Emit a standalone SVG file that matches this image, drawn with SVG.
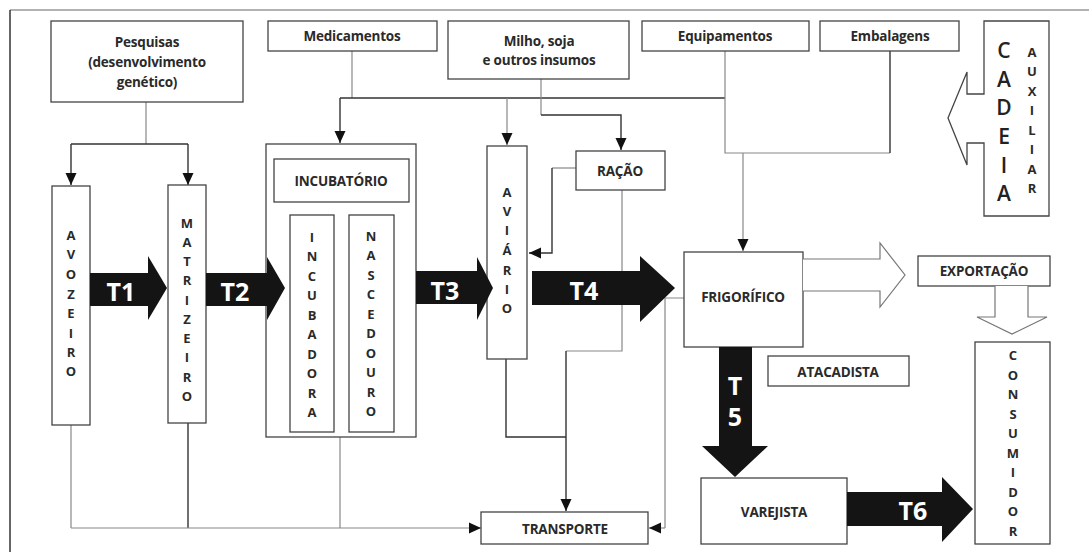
<svg xmlns="http://www.w3.org/2000/svg" width="1089" height="552" viewBox="0 0 1089 552">
<style>
.box{fill:#fff;stroke:#444;stroke-width:1.3}
.lbl{font-family:"Open Sans","Liberation Sans",sans-serif;font-weight:700;font-size:13.5px;fill:#2a2a2a;text-anchor:middle;dominant-baseline:central;letter-spacing:-0.2px}
.vl{font-family:"Open Sans","Liberation Sans",sans-serif;font-weight:700;font-size:13px;fill:#2a2a2a;text-anchor:middle;dominant-baseline:central}
.big{font-family:"Open Sans","Liberation Sans",sans-serif;font-weight:700;font-size:25px;fill:#fff;text-anchor:middle;dominant-baseline:central}
.blk{fill:#141414;stroke:none}
.hol{fill:#fff;stroke:#777;stroke-width:1.2}
.c{fill:none;stroke:#333;stroke-width:1.4}
.g{fill:none;stroke:#888;stroke-width:1.2}
</style>
<defs>
<marker id="ah" markerUnits="userSpaceOnUse" markerWidth="12" markerHeight="12" refX="12" refY="6" orient="auto" viewBox="0 0 12 12">
<path d="M0,0.5 L12,6 L0,11.5 z" fill="#111"/>
</marker>
</defs>
<rect width="1089" height="552" fill="#fff"/>
<g id="frame">
<line x1="10" y1="10" x2="1089" y2="10" stroke="#999" stroke-width="1.5"/>
<line x1="10" y1="10" x2="10" y2="552" stroke="#333" stroke-width="1.5"/>
</g>
<g id="connectors">
<path class="g" d="M146,102 V144"/>
<path class="c" d="M71,144 H188"/>
<path class="c" d="M71,144 V185" marker-end="url(#ah)"/>
<path class="c" d="M188,144 V185" marker-end="url(#ah)"/>
<path class="g" d="M352,51 V98"/>
<path class="c" d="M340,98 H725"/>
<path class="c" d="M340,98 V143" marker-end="url(#ah)"/>
<path class="g" d="M507,98 V145" marker-end="url(#ah)"/>
<path class="g" d="M541,79 V115"/>
<path class="c" d="M541,115 H621 V150" marker-end="url(#ah)"/>
<path class="g" d="M725,51 V153 H890"/>
<path class="c" d="M890,153 V51"/>
<path class="g" d="M743,153 V251" marker-end="url(#ah)"/>
<path class="g" d="M576,168 H552"/>
<path class="c" d="M552,168 V253 H529" marker-end="url(#ah)"/>
<path class="g" d="M622,190 V351 H566"/>
<path class="c" d="M566,351 V511" marker-end="url(#ah)"/>
<path class="c" d="M506,359 V437 H566"/>
<path class="g" d="M684,298 H665 V528"/>
<path class="g" d="M665,528 H649" marker-end="url(#ah)"/>
<path class="g" d="M71,425 V528"/>
<path class="c" d="M188,423 V528"/>
<path class="g" d="M340,437 V528"/>
<path class="g" d="M71,528 H481" marker-end="url(#ah)"/>
</g>
<g id="pesquisas">
<rect class="box" x="51" y="21" width="192" height="81"/>
<text class="lbl" x="147" y="42">Pesquisas</text>
<text class="lbl" x="147" y="62">(desenvolvimento</text>
<text class="lbl" x="147" y="82">genético)</text>
</g>
<g id="medicamentos">
<rect class="box" x="268" y="21" width="169" height="30"/>
<text class="lbl" x="352" y="36">Medicamentos</text>
</g>
<g id="milho">
<rect class="box" x="448" y="21" width="181" height="58"/>
<text class="lbl" x="539" y="41">Milho, soja</text>
<text class="lbl" x="539" y="60">e outros insumos</text>
</g>
<g id="equipamentos">
<rect class="box" x="642" y="21" width="167" height="30"/>
<text class="lbl" x="725" y="36">Equipamentos</text>
</g>
<g id="embalagens">
<rect class="box" x="820" y="21" width="139" height="30"/>
<text class="lbl" x="890" y="36">Embalagens</text>
</g>
<g id="cadeia-auxiliar">
<path class="box" d="M984,94 H967 V72 L948,118 L967,165 V143 H984 V216 H1049 V21 H984 Z"/>
<g font-family="Open Sans, Liberation Sans, sans-serif" font-size="21" font-weight="600" fill="#222" text-anchor="middle" dominant-baseline="central">
<text x="1004" y="50">C</text><text x="1004" y="79">A</text><text x="1004" y="107">D</text><text x="1004" y="136">E</text><text x="1004" y="165">I</text><text x="1004" y="193">A</text>
</g>
<text class="vl" x="1032" y="52" font-size="12">A</text><text class="vl" x="1032" y="71" font-size="12">U</text><text class="vl" x="1032" y="91" font-size="12">X</text><text class="vl" x="1032" y="110" font-size="12">I</text><text class="vl" x="1032" y="130" font-size="12">L</text><text class="vl" x="1032" y="149" font-size="12">I</text><text class="vl" x="1032" y="169" font-size="12">A</text><text class="vl" x="1032" y="188" font-size="12">R</text>
</g>
<g id="avozeiro">
<rect class="box" x="52" y="186" width="38" height="239"/>
<text class="vl" x="71" y="235">A</text><text class="vl" x="71" y="254">V</text><text class="vl" x="71" y="274">O</text><text class="vl" x="71" y="294">Z</text><text class="vl" x="71" y="313">E</text><text class="vl" x="71" y="333">I</text><text class="vl" x="71" y="352">R</text><text class="vl" x="71" y="371">O</text>
</g>
<g id="matrizeiro">
<rect class="box" x="168" y="185" width="38" height="238"/>
<text class="vl" x="187" y="223">M</text><text class="vl" x="187" y="242">A</text><text class="vl" x="187" y="261">T</text><text class="vl" x="187" y="280">R</text><text class="vl" x="187" y="300">I</text><text class="vl" x="187" y="319">Z</text><text class="vl" x="187" y="338">E</text><text class="vl" x="187" y="357">I</text><text class="vl" x="187" y="377">R</text><text class="vl" x="187" y="396">O</text>
</g>
<g id="incubatorio">
<rect class="box" x="266" y="144" width="150" height="293"/>
<rect class="box" x="274" y="159" width="135" height="43"/>
<text class="lbl" x="341" y="181" font-size="12.5">INCUBATÓRIO</text>
</g>
<g id="incubadora">
<rect class="box" x="290" y="215" width="44" height="217"/>
<text class="vl" x="312" y="237">I</text><text class="vl" x="312" y="256">N</text><text class="vl" x="312" y="276">C</text><text class="vl" x="312" y="295">U</text><text class="vl" x="312" y="315">B</text><text class="vl" x="312" y="334">A</text><text class="vl" x="312" y="354">D</text><text class="vl" x="312" y="373">O</text><text class="vl" x="312" y="393">R</text><text class="vl" x="312" y="412">A</text>
</g>
<g id="nascedouro">
<rect class="box" x="349" y="215" width="45" height="217"/>
<text class="vl" x="371" y="236">N</text><text class="vl" x="371" y="255">A</text><text class="vl" x="371" y="275">S</text><text class="vl" x="371" y="294">C</text><text class="vl" x="371" y="314">E</text><text class="vl" x="371" y="333">D</text><text class="vl" x="371" y="353">O</text><text class="vl" x="371" y="372">U</text><text class="vl" x="371" y="392">R</text><text class="vl" x="371" y="411">O</text>
</g>
<g id="aviario">
<rect class="box" x="487" y="146" width="40" height="213"/>
<text class="vl" x="507" y="192">A</text><text class="vl" x="507" y="211">V</text><text class="vl" x="507" y="230">I</text><text class="vl" x="507" y="250">Á</text><text class="vl" x="507" y="270">R</text><text class="vl" x="507" y="289">I</text><text class="vl" x="507" y="308">O</text>
</g>
<g id="racao">
<rect class="box" x="576" y="151" width="89" height="39"/>
<text class="lbl" x="620" y="171">RAÇÃO</text>
</g>
<g id="frigorifico">
<rect class="box" x="684" y="252" width="119" height="95"/>
<text class="lbl" x="743" y="297" font-size="12.5">FRIGORÍFICO</text>
</g>
<g id="exportacao">
<rect class="box" x="918" y="256" width="132" height="30"/>
<text class="lbl" x="984" y="271">EXPORTAÇÃO</text>
</g>
<g id="atacadista">
<rect class="box" x="768" y="356" width="141" height="30"/>
<text class="lbl" x="838" y="372" font-size="12.5">ATACADISTA</text>
</g>
<g id="consumidor">
<rect class="box" x="975" y="342" width="75" height="202"/>
<text class="vl" x="1013" y="355" font-size="12">C</text><text class="vl" x="1013" y="375" font-size="12">O</text><text class="vl" x="1013" y="394" font-size="12">N</text><text class="vl" x="1013" y="414" font-size="12">S</text><text class="vl" x="1013" y="433" font-size="12">U</text><text class="vl" x="1013" y="453" font-size="12">M</text><text class="vl" x="1013" y="472" font-size="12">I</text><text class="vl" x="1013" y="492" font-size="12">D</text><text class="vl" x="1013" y="511" font-size="12">O</text><text class="vl" x="1013" y="531" font-size="12">R</text>
</g>
<g id="varejista">
<rect class="box" x="701" y="478" width="146" height="66"/>
<text class="lbl" x="774" y="512" font-size="12.5">VAREJISTA</text>
</g>
<g id="transporte">
<rect class="box" x="481" y="512" width="167" height="32"/>
<text class="lbl" x="565" y="529" font-size="12.5">TRANSPORTE</text>
</g>
<g id="arrows">
<path class="blk" d="M90,273 H148 V256 L167,288 L148,320 V306 H90 Z"/>
<text class="big" x="121" y="291">T1</text>
<path class="blk" d="M206,273 H267 V257 L285,288 L267,320 V306 H206 Z"/>
<text class="big" x="235" y="291">T2</text>
<path class="blk" d="M416,271 H477 V257 L493,288 L477,320 V304 H416 Z"/>
<text class="big" x="445" y="290">T3</text>
<path class="blk" d="M532,271 H640 V256 L675,288 L640,322 V305 H532 Z"/>
<text class="big" x="584" y="290">T4</text>
<path class="blk" d="M719,347 V446 H702 L735,477 L768,446 H752 V347 Z"/>
<text class="big" x="735" y="385">T</text>
<text class="big" x="735" y="416">5</text>
<path class="blk" d="M847,492 H942 V477 L973,509 L942,542 V526 H847 Z"/>
<text class="big" x="913" y="510">T6</text>
<path class="hol" d="M803,259 H880 V243 L905,275 L880,307 V291 H803"/>
<path class="hol" d="M995,286 V317 H977 L1012,334 L1047,317 H1028 V286"/>
</g>
</svg>
